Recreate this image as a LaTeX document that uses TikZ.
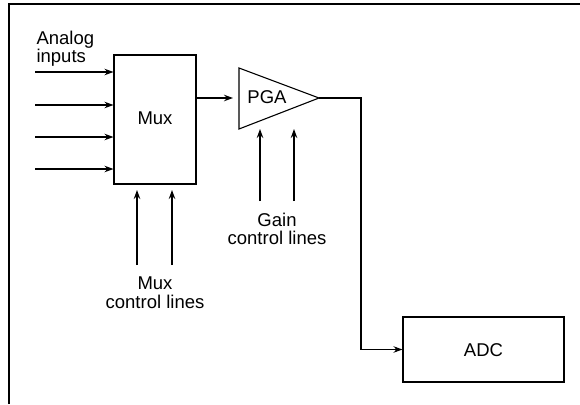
\documentclass[tikz,border=0pt]{standalone}
\usepackage{fontspec}
\setmainfont{Liberation Sans}
\usetikzlibrary{arrows.meta}
\begin{document}
\begin{tikzpicture}[x=1pt,y=-1pt,
  line width=1.1pt,
  every node/.style={font=\fontsize{18.5}{18.5}\selectfont, inner sep=0pt},
  arr/.style={-{Stealth[length=9pt,width=6.5pt]}},
  blockbox/.style={draw, rectangle}]
\useasboundingbox (0,0) rectangle (580,404);
% frame (top and left edges only)
\draw (9,404) -- (9,4) -- (580,4);
% blocks
\node[blockbox, minimum width=82pt, minimum height=129pt] (mux) at (155,119.5) {};
\node[anchor=base] (muxt) at (155,124) {Mux};
\coordinate (pgaL1) at (239,68);
\coordinate (pgaL2) at (239,129);
\coordinate (pgaO) at (319,98);
\draw (pgaL1) -- (pgaO) -- (pgaL2) -- cycle;
\node[anchor=base] (pgat) at (267,103) {PGA};
\node[blockbox, minimum width=161pt, minimum height=65pt] (adc) at (483.5,349.5) {};
\node[anchor=base] (adct) at (483.5,356) {ADC};
% analog inputs
\node[anchor=base west] (ana1) at (36,45) {Analog};
\node[anchor=base west] (ana2) at (36,63) {inputs};
\foreach \y [count=\i] in {72,105,137,169} {
  \coordinate (in\i) at (35,\y);
  \draw[arr] (in\i) -- (in\i -| mux.west);
}
% mux to pga
\coordinate (pgaIn) at (233,98);
\draw[arr] (mux.east |- pgaIn) -- (pgaIn);
% pga to adc
\coordinate (bend) at (361,98);
\draw[arr] (pgaO) -- (bend) |- (adc.west);
% gain control lines
\coordinate (g1b) at (260,201);
\coordinate (g1t) at (260,129);
\coordinate (g2b) at (294,201);
\coordinate (g2t) at (294,129);
\draw[arr] (g1b) -- (g1t);
\draw[arr] (g2b) -- (g2t);
\node[anchor=base] (gain1) at (277,226) {Gain};
\node[anchor=base] (gain2) at (277,244) {control lines};
% mux control lines
\coordinate (m1b) at (137,265);
\coordinate (m1t) at (137,190);
\coordinate (m2b) at (172,265);
\coordinate (m2t) at (172,190);
\draw[arr] (m1b) -- (m1t);
\draw[arr] (m2b) -- (m2t);
\node[anchor=base] (muxc1) at (155,289) {Mux};
\node[anchor=base] (muxc2) at (155,308) {control lines};
\end{tikzpicture}
\end{document}
